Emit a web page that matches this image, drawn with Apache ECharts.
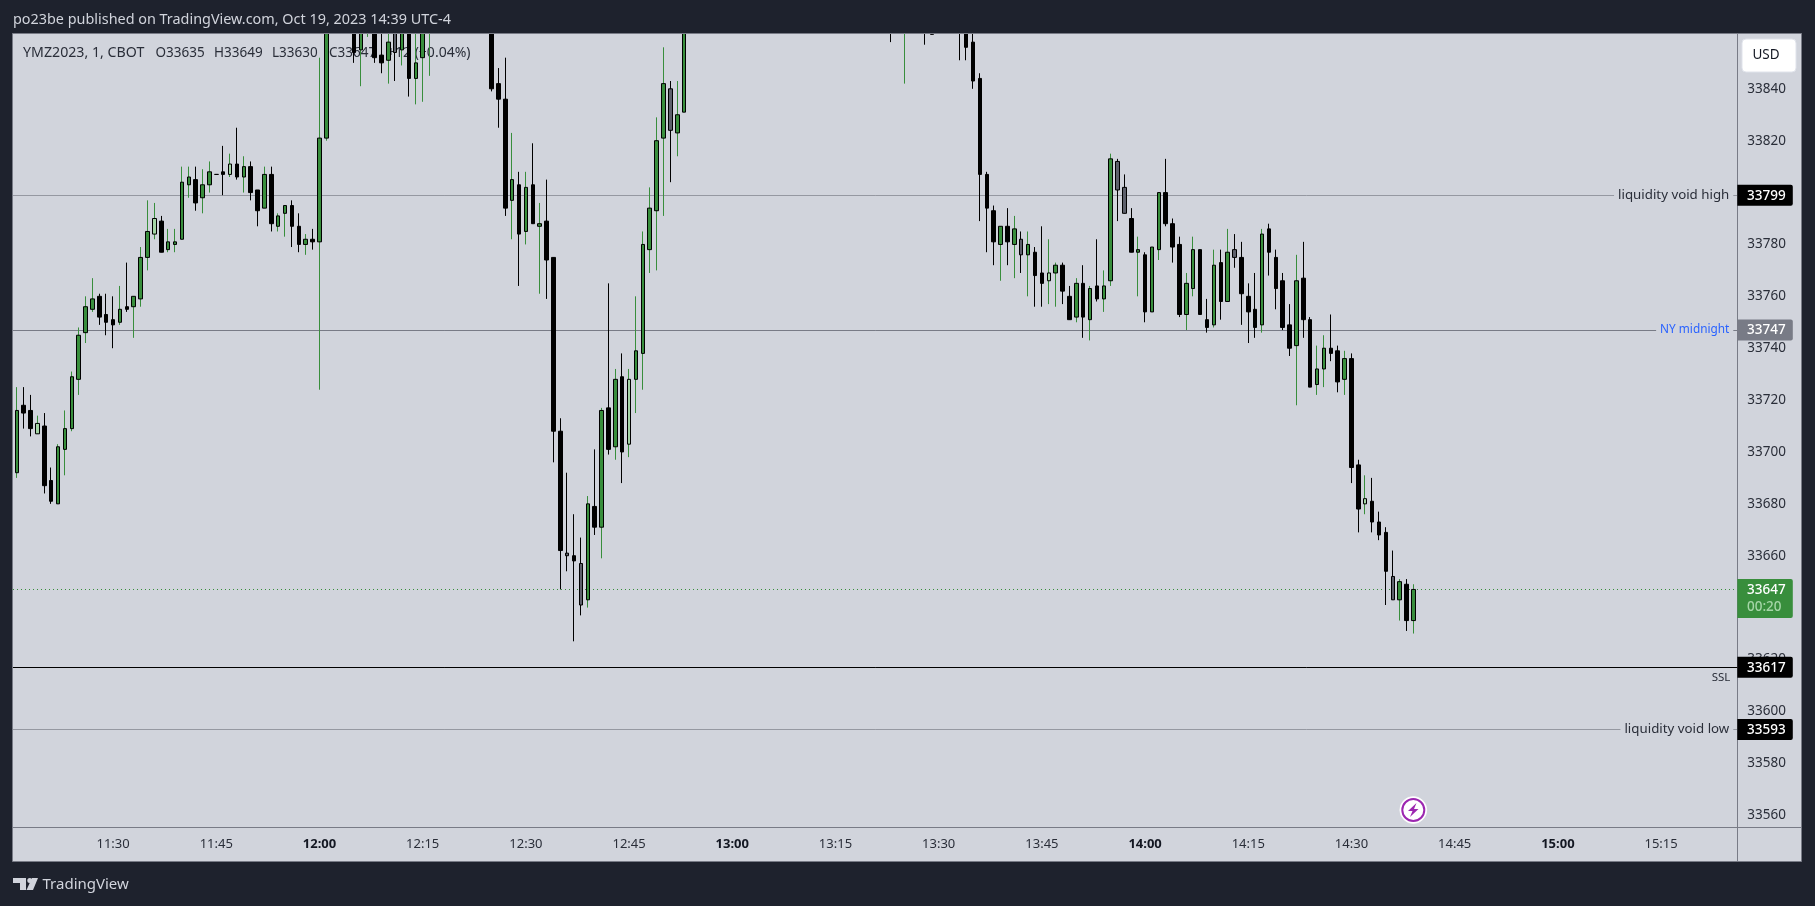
<!DOCTYPE html>
<html><head><meta charset="utf-8"><style>html,body{margin:0;padding:0;background:#1e222d}#c{width:1815px;height:906px}</style>
<script src="https://cdn.jsdelivr.net/npm/echarts@6/dist/echarts.min.js"></script></head><body><div id="c"></div><script>
const firstMinute = 676; // 11:16, one candle per minute
// u = green, l = light green, d = black, g = grey
const kinds = ("uddlddu"+"uuu"+"uuddduduuu"+"lduuuuduud"+"dldudduduu"+"dduduuudud"+"uuddugud"+"uu"+"uududduddd"+"ddudududdd"+"gdgudududl"+"uuuuuguuud"
 +"uududduudu"+"ddudduddud"+"dudduddduu"+"dddduddddd"+"dddudugudd"+"luddududuu"+"ggduduuddd"+"uuddudugdd"+"dudddduddu"+"uddudd"+"lddd"+"gudu").split("");
const opens = [33692,33718,33716,33707,33710,33689,33680,33701,33709,33728,
33746,33755,33760,33753,33751,33750,33756,33756,33759,33775,
33784,33789,33778,33780,33782,33803,33805,33798,33803,33807,
33808,33807,33811,33806,33810,33801,33794,33807,33787,33792,
33795,33787,33780,33782,33781,33821,33868,33874,33870,33876,
33855,33866,33872,33853,33851,33866,33855,33866,33844,33852,
33866,33874,33880,33876,33882,33878,33875,33879,33874,33868,
33842,33836,33797,33803,33785,33803,33787,33789,33775,33708,
33661,33660,33657,33643,33679,33671,33717,33702,33729,33703,
33728,33738,33778,33793,33821,33840,33823,33831,33868,33875,
33871,33878,33884,33880,33887,33882,33879,33885,33890,33886,
33891,33887,33883,33888,33884,33880,33885,33881,33877,33882,
33878,33875,33879,33875,33872,33876,33872,33869,33866,33870,
33874,33871,33868,33863,33864,33868,33866,33865,33866,33858,
33844,33807,33793,33780,33787,33780,33782,33776,33777,33769,
33766,33769,33772,33760,33752,33765,33751,33764,33759,33766,
33812,33802,33790,33777,33776,33754,33778,33800,33788,33780,
33753,33763,33778,33751,33749,33773,33758,33778,33775,33760,
33755,33749,33786,33775,33766,33749,33741,33767,33751,33726,
33732,33740,33739,33728,33736,33695,33680,33681,33673,33669,
33652,33643,33649,33635];
const closes = [33716,33715,33709,33711,33687,33681,33702,33709,33729,33745,
33756,33759,33752,33750,33749,33755,33755,33760,33775,33785,
33790,33777,33781,33781,33804,33806,33796,33803,33808,33807,
33807,33811,33806,33810,33800,33793,33807,33788,33791,33795,
33787,33780,33782,33781,33821,33868,33874,33870,33876,33854,
33872,33872,33852,33850,33858,33854,33866,33844,33850,33866,
33874,33880,33876,33882,33878,33875,33879,33874,33868,33840,
33836,33794,33805,33784,33802,33788,33788,33774,33708,33662,
33660,33658,33641,33680,33671,33716,33701,33728,33700,33728,
33739,33780,33794,33820,33842,33824,33830,33868,33875,33871,
33878,33884,33880,33887,33882,33879,33885,33890,33886,33891,
33887,33883,33888,33884,33880,33885,33881,33877,33882,33878,
33875,33879,33875,33872,33876,33872,33869,33866,33870,33874,
33871,33868,33865,33861,33868,33866,33864,33862,33856,33843,
33807,33794,33781,33787,33781,33786,33776,33780,33768,33765,
33769,33772,33762,33751,33765,33752,33763,33759,33764,33813,
33801,33792,33777,33778,33754,33779,33800,33788,33779,33753,
33765,33778,33753,33748,33772,33758,33777,33775,33761,33754,
33748,33784,33777,33763,33748,33740,33766,33751,33725,33732,
33740,33738,33727,33736,33694,33678,33682,33673,33668,33654,
33643,33650,33635,33647];
const lows = [33690,33709,33706,33707,33684,33680,33680,33691,33708,33722,
33742,33754,33749,33745,33740,33749,33754,33744,33756,33770,
33782,33777,33777,33777,33782,33798,33793,33792,33800,33807,
33799,33806,33805,33800,33797,33787,33794,33785,33785,33783,
33779,33777,33776,33778,33724,33820,33865,33866,33866,33850,
33841,33860,33850,33846,33842,33843,33849,33837,33834,33835,
33845,33868,33870,33872,33874,33870,33871,33870,33865,33839,
33825,33791,33782,33764,33780,33788,33761,33759,33696,33647,
33654,33627,33637,33640,33668,33659,33699,33697,33688,33698,
33715,33724,33769,33770,33791,33804,33814,33831,33865,33866,
33868,33874,33876,33877,33878,33875,33876,33882,33882,33883,
33884,33879,33880,33881,33876,33877,33878,33873,33874,33875,
33871,33872,33872,33868,33869,33868,33865,33858,33863,33842,
33866,33864,33857,33861,33862,33863,33862,33851,33851,33840,
33789,33777,33772,33766,33772,33767,33769,33760,33756,33756,
33757,33756,33757,33751,33750,33744,33743,33758,33754,33764,
33789,33792,33777,33760,33750,33754,33774,33787,33773,33752,
33747,33760,33753,33746,33748,33751,33758,33771,33749,33742,
33744,33746,33768,33755,33747,33737,33718,33744,33725,33722,
33725,33735,33723,33722,33688,33669,33676,33669,33666,33641,
33643,33635,33631,33630];
const highs = [33725,33725,33722,33714,33715,33694,33703,33716,33731,33748,
33760,33767,33761,33761,33760,33764,33773,33760,33779,33797,
33796,33791,33786,33786,33810,33810,33810,33809,33812,33807,
33818,33815,33825,33814,33812,33801,33810,33810,33792,33795,
33797,33792,33784,33786,33852,33872,33878,33880,33879,33878,
33875,33874,33875,33866,33866,33868,33870,33870,33864,33870,
33876,33884,33885,33886,33887,33883,33882,33883,33880,33872,
33848,33852,33823,33808,33808,33819,33796,33805,33775,33713,
33692,33676,33667,33683,33701,33717,33765,33732,33738,33732,
33760,33785,33802,33829,33856,33843,33843,33870,33878,33880,
33882,33888,33887,33890,33891,33885,33889,33894,33893,33895,
33894,33890,33891,33892,33887,33888,33889,33884,33886,33885,
33881,33883,33882,33878,33879,33879,33875,33872,33873,33878,
33877,33874,33871,33866,33871,33870,33868,33868,33870,33862,
33846,33808,33795,33787,33794,33791,33785,33785,33779,33787,
33782,33773,33773,33764,33767,33772,33764,33782,33770,33815,
33813,33807,33794,33783,33777,33779,33800,33813,33790,33783,
33769,33783,33778,33759,33778,33778,33786,33784,33781,33765,
33769,33786,33788,33778,33769,33757,33776,33781,33752,33741,
33745,33753,33741,33739,33738,33697,33691,33690,33677,33671,
33662,33651,33651,33649];
const yTicks = [33560,33580,33600,33620,33640,33660,33680,33700,33720,33740,33760,33780,33800,33820,33840];
const xTicks = [690,705,720,735,750,765,780,795,810,825,840,855,870,885,900,915];
const levelVoidHigh = 33799, levelMidnight = 33747, levelLast = 33647, levelSSL = 33617, levelVoidLow = 33593;
const tagValues = [[levelVoidHigh,'#000000'],[levelMidnight,'#787b86'],[levelSSL,'#000000'],[levelVoidLow,'#000000']];
const legendParts = [["YMZ2023, 1, CBOT",23,14.2],["O33635",155.5,13.5],["H33649",214,13.5],["L33630",272,13.5],["C33647",329,13.5],["+12 (+0.04%)",387,14]];

const FONT = '"Noto Sans", sans-serif';
const BG='#d1d4dc', DARK='#1e222d', EDGE='#787b86', TXT='#2a2e39', UP='#388e3c';
const bodyFill={u:UP,l:'#a5d6a7',d:'#000000',g:'#5d606b'};
const wickFill={u:UP,l:UP,d:'#000000',g:'#000000'};
const pad=n=>String(n).padStart(2,'0');
const timeText=m=>pad(Math.floor(m/60))+':'+pad(m%60);

const wickData=opens.map((o,i)=>{const c=wickFill[kinds[i]];return{value:[firstMinute+i,o,closes[i],lows[i],highs[i]],
  itemStyle:{color:c,color0:c,borderColor:c,borderColor0:c,borderColorDoji:c}};});
const bodyData=opens.map((o,i)=>{const c=bodyFill[kinds[i]],b='#000000';const cl=closes[i];return{value:[firstMinute+i,o,cl,Math.min(o,cl),Math.max(o,cl)],
  itemStyle:{color:c,color0:c,borderColor:b,borderColor0:b,borderColorDoji:b}};});

const level=(v,text,color,lineColor,lineType,position,bg,size,dist,padding)=>({yAxis:v,name:text,
  lineStyle:{color:lineColor,width:1,type:lineType},
  label:text?{show:true,formatter:text,position:position,distance:dist,color:color,fontFamily:FONT,fontSize:size||13,
    backgroundColor:bg,padding:padding}:{show:false}});

const chart=echarts.init(document.getElementById('c'),null,{renderer:'canvas'});
chart.setOption({
  animation:false,backgroundColor:DARK,
  grid:{left:13,top:34,width:1724.3,height:793,containLabel:false},
  xAxis:{type:'value',min:675.45,max:926.08,splitLine:{show:false},
    axisLine:{show:true,lineStyle:{color:EDGE,width:1}},axisTick:{show:false,customValues:xTicks},
    axisLabel:{customValues:xTicks,margin:11,color:TXT,fontFamily:FONT,fontSize:13,hideOverlap:false,
      formatter:v=>{const t=timeText(v);return v%60===0?'{b|'+t+'}':t;},
      rich:{b:{fontWeight:'bold',color:'#131722',fontFamily:FONT,fontSize:13}}}},
  yAxis:{type:'value',position:'right',min:33555.42,max:33861.13,splitLine:{show:false},
    axisLine:{show:true,lineStyle:{color:EDGE,width:1}},axisTick:{show:false,customValues:yTicks},
    axisLabel:{customValues:yTicks,margin:10,color:TXT,fontFamily:FONT,fontSize:13.5,align:'left',hideOverlap:false,formatter:v=>String(v)}},
  series:[
    {type:'candlestick',name:'wick',data:wickData,barWidth:1,z:3,clip:true,silent:true,itemStyle:{borderWidth:1}},
    {type:'candlestick',name:'body',data:bodyData,barWidth:4,z:4,clip:true,silent:true,itemStyle:{borderWidth:1}},
    {type:'line',name:'levels',data:[],z:2,silent:true,
      markLine:{silent:true,symbol:'none',animation:false,precision:0,z:2,data:[
        level(levelVoidHigh,'liquidity void high',TXT,'#9598a1','solid','insideEnd',BG,13.3,4,[1,4,1,4]),
        level(levelMidnight,'NY midnight','#2962ff',EDGE,'solid','insideEnd',BG,11.8,4,[1,4,1,4]),
        level(levelLast,'', '', UP,[1,3]),
        level(levelSSL,'SSL',TXT,'#000000','solid','insideEndBottom',null,11.5,4,[0,3,0,0]),
        level(levelVoidLow,'liquidity void low',TXT,'#9598a1','solid','insideEnd',BG,13.3,4,[1,4,1,4])
      ]}}
  ],
  graphic:[]
});

const yPx=v=>chart.convertToPixel({yAxisIndex:0},v);
const AX=1737.3, TAGW=55.5, TAGFONT='500 13.5px '+FONT;
const g=[];
// panel
g.push({type:'rect',z:-5,shape:{x:12.5,y:33.5,width:1789,height:828},style:{fill:BG,stroke:EDGE,lineWidth:1}});
// header band, above the candles that run past the top of the plot
g.push({type:'rect',z:8,shape:{x:0,y:0,width:1815,height:33},style:{fill:DARK}});
g.push({type:'line',z:8,shape:{x1:12.5,y1:33.5,x2:1801.5,y2:33.5},style:{stroke:EDGE,lineWidth:1}});
// axis line extensions
g.push({type:'line',z:1,shape:{x1:13,y1:827.5,x2:1801,y2:827.5},style:{stroke:EDGE,lineWidth:1}});
g.push({type:'line',z:1,shape:{x1:1737.5,y1:34,x2:1737.5,y2:861},style:{stroke:EDGE,lineWidth:1}});
// header and legend
g.push({type:'text',z:9,x:13,y:20,style:{text:'po23be published on TradingView.com, Oct 19, 2023 14:39 UTC-4',fill:BG,font:'14.4px '+FONT,textVerticalAlign:'middle'}});
legendParts.forEach(p=>g.push({type:'text',z:1,x:p[1],y:53,style:{text:p[0],fill:TXT,font:p[2]+'px '+FONT,textVerticalAlign:'middle'}}));
// USD button
g.push({type:'rect',z:10,shape:{x:1742,y:39,width:54,height:33,r:4},style:{fill:'#ffffff',stroke:'#e0e3eb',lineWidth:1}});
g.push({type:'text',z:11,x:1766,y:55.5,style:{text:'USD',fill:'#131722',font:'13.5px '+FONT,textAlign:'center',textVerticalAlign:'middle'}});
// price tags
tagValues.forEach(t=>{const y=yPx(t[0]);
  g.push({type:'rect',z:10,shape:{x:AX,y:y-10.5,width:TAGW,height:21,r:[0,2,2,0]},style:{fill:t[1]}});
  g.push({type:'text',z:11,x:1747,y:y+0.5,style:{text:String(t[0]),fill:'#ffffff',font:TAGFONT,textVerticalAlign:'middle'}});
});
const ly=yPx(levelLast);
g.push({type:'rect',z:10,shape:{x:AX,y:ly-10.5,width:TAGW,height:39,r:[0,2,2,0]},style:{fill:UP}});
g.push({type:'text',z:11,x:1747,y:ly+0.5,style:{text:String(levelLast),fill:'#ffffff',font:TAGFONT,textVerticalAlign:'middle'}});
g.push({type:'text',z:11,x:1747,y:ly+18,style:{text:'00:20',fill:'#a5d6a7',font:TAGFONT,textVerticalAlign:'middle'}});
// lightning badge
g.push({type:'circle',z:10,shape:{cx:1413.3,cy:810,r:13.5},style:{fill:'#ffffff',stroke:'rgba(255,255,255,0.6)',lineWidth:1}});
g.push({type:'circle',z:11,shape:{cx:1413.3,cy:810,r:11},style:{fill:'#ffffff',stroke:'#9c27b0',lineWidth:2}});
g.push({type:'polygon',z:12,shape:{points:[[1416.5,803],[1408,811],[1412.5,811],[1410,817],[1418.5,809],[1414,809]]},style:{fill:'#9c27b0'}});
// TradingView logo
g.push({type:'polygon',z:1,shape:{points:[[13,878],[26,878],[26,890],[20,890],[20,883],[13,883]]},style:{fill:BG}});
g.push({type:'circle',z:1,shape:{cx:29.8,cy:880.5,r:2.5},style:{fill:BG}});
g.push({type:'polygon',z:1,shape:{points:[[32,878],[38,878],[33,890],[26.5,890]]},style:{fill:BG}});
g.push({type:'text',z:1,x:42.5,y:884.5,style:{text:'TradingView',fill:BG,font:'15px '+FONT,textVerticalAlign:'middle'}});
chart.setOption({graphic:g});
</script></body></html>
